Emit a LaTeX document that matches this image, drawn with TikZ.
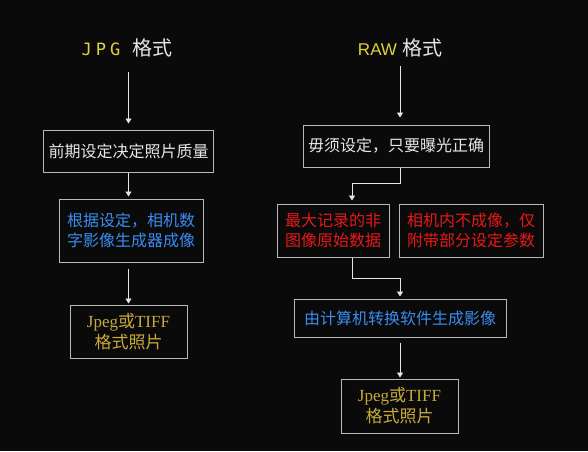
\documentclass[tikz,border=0pt]{standalone}
\usepackage{fontspec}
\setmainfont{Noto Sans CJK SC}
\newfontfamily\serifla{Liberation Serif}
\newfontfamily\monola{DejaVu Sans Mono}
\newfontfamily\sansla{Liberation Sans}
\usetikzlibrary{arrows.meta}
\definecolor{bg}{HTML}{0A0A0A}
\definecolor{frame}{HTML}{B8B8B8}
\definecolor{wtext}{HTML}{E6E6E6}
\definecolor{btext}{HTML}{3A8CF0}
\definecolor{rtext}{HTML}{E81818}
\definecolor{ytext}{HTML}{E0D23C}
\definecolor{gtext}{HTML}{C8AA3C}
\tikzset{
	box/.style={draw=frame, line width=1pt, inner sep=0pt, align=center,
		font=\fontsize{16}{20}\selectfont},
	title/.style={inner sep=0pt, text height=15pt, text depth=3pt,
		font=\fontsize{20}{24}\selectfont},
	arr/.style={draw=wtext, line width=0.9pt, -{Triangle[width=6pt,length=5pt]}},
}

\begin{document}
\begin{tikzpicture}[x=1pt,y=-1pt]
	\fill[bg] (0,0) rectangle (588,451);
	\useasboundingbox (0,0) rectangle (588,451);
	
	% JPG column
	\node[title] (tj) at (127,49) {\textcolor{ytext}{\fontsize{17}{20}\monola J\hspace{4pt}P\hspace{4pt}G}\hspace{12pt}\textcolor{wtext}{格式}};
	\node[box, text=wtext, minimum width=170, minimum height=42] (j1) at (128.5,151) {前期设定决定照片质量};
	\node[box, text=btext, minimum width=144, minimum height=63] (j2) at (131,230.5) {根据设定，相机数\\字影像生成器成像};
	\node[box, text=gtext, minimum width=117, minimum height=53, font=\fontsize{17}{21}\selectfont] (j3) at (128.5,331.5) {{\serifla Jpeg}或{\serifla TIFF}\\格式照片};
	
	\draw[arr, shorten <=14pt, shorten >=6pt] (tj.south -| j1.north) -- (j1.north);
	\draw[arr, shorten >=2pt] (j1.south) -- (j1.south |- j2.north);
	\draw[arr, shorten <=6pt, shorten >=1pt] (j3.north |- j2.south) -- (j3.north);
	
	% RAW column
	\node[title] (tr) at (400,49) {\textcolor{ytext}{\fontsize{17}{20}\sansla RAW}\hspace{5pt}\textcolor{wtext}{格式}};
	\node[box, text=wtext, minimum width=186, minimum height=42] (r1) at (396,146) {毋须设定，只要曝光正确};
	\node[box, text=rtext, minimum width=112, minimum height=53] (r2) at (333,230.5) {最大记录的非\\图像原始数据};
	\node[box, text=rtext, minimum width=144, minimum height=53] (r3) at (471,230.5) {相机内不成像，仅\\附带部分设定参数};
	\node[box, text=btext, minimum width=212, minimum height=38] (r4) at (400,318) {由计算机转换软件生成影像};
	\node[box, text=gtext, minimum width=117, minimum height=54, font=\fontsize{17}{21}\selectfont] (r5) at (399.5,406) {{\serifla Jpeg}或{\serifla TIFF}\\格式照片};
	
	\draw[arr, shorten <=8pt, shorten >=7pt] (tr.south) -- (tr.south |- r1.north);
	\draw[arr, shorten >=3pt] ([xshift=4pt]r1.south) -- ++(0,16) -| ([xshift=19pt]r2.north);
	\draw[arr, shorten >=2pt] ([xshift=19pt]r2.south) -- ++(0,21) -| (r4.north);
	\draw[arr, shorten <=5pt, shorten >=1pt] (r4.south) -- (r4.south |- r5.north);
\end{tikzpicture}
\end{document}
